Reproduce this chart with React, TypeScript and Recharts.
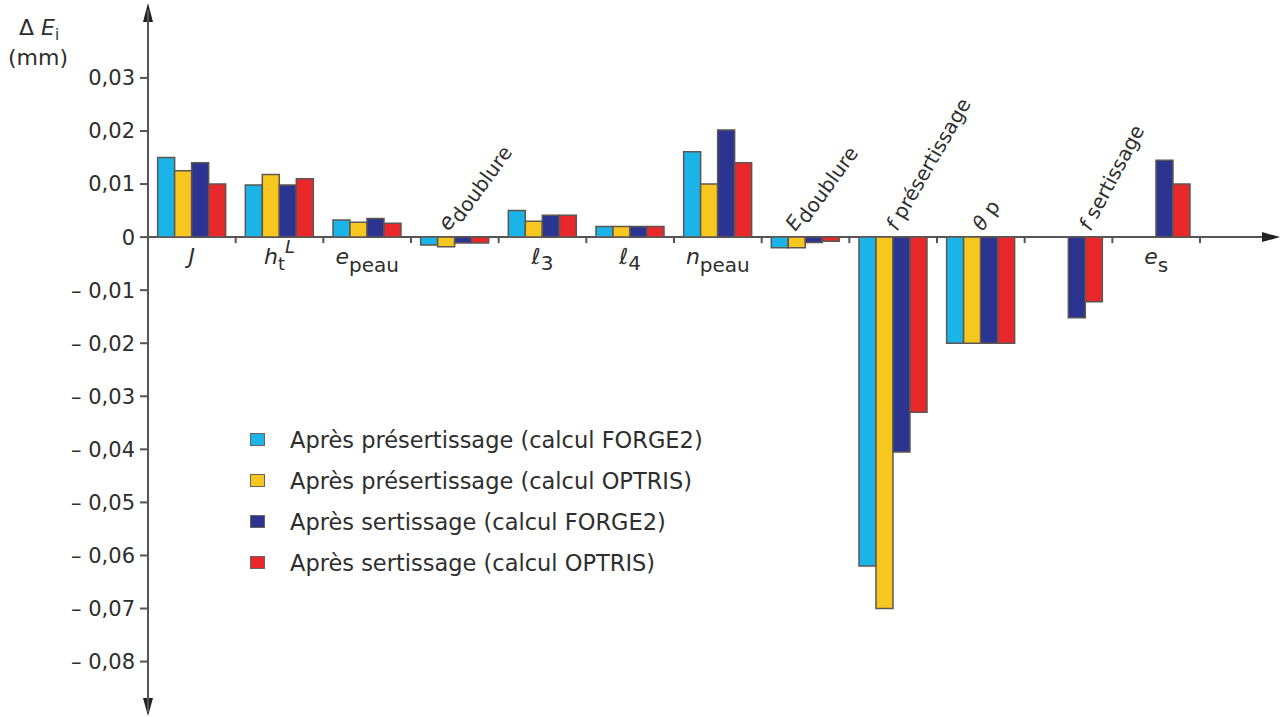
import { BarChart, Bar, XAxis, YAxis, Customized } from 'recharts'

// ΔE_i per parameter (mm)
const categories = ['J', 'htL', 'epeau', 'edoublure', 'l3', 'l4', 'npeau', 'Edoublure', 'fpre', 'thetap', 'fsert', 'es']
const preForge2 = [0.015, 0.0098, 0.0032, -0.0015, 0.005, 0.002, 0.0161, -0.002, -0.062, -0.02, null, null]
const preOptris = [0.0125, 0.0118, 0.0028, -0.0018, 0.003, 0.002, 0.01, -0.002, -0.07, -0.02, null, null]
const sertForge2 = [0.014, 0.0098, 0.0035, -0.0011, 0.0041, 0.002, 0.0202, -0.001, -0.0405, -0.02, -0.0152, 0.0145]
const sertOptris = [0.01, 0.011, 0.0026, -0.0011, 0.0041, 0.002, 0.014, -0.0008, -0.033, -0.02, -0.0122, 0.01]
const yTicks = [0.03, 0.02, 0.01, 0, -0.01, -0.02, -0.03, -0.04, -0.05, -0.06, -0.07, -0.08]

const seriesNames = [
  'Après présertissage (calcul FORGE2)',
  'Après présertissage (calcul OPTRIS)',
  'Après sertissage (calcul FORGE2)',
  'Après sertissage (calcul OPTRIS)',
]
const colors = ['#1ab4e8', '#f8c71f', '#2b3490', '#e8282b']

const data = categories.map((c, i) => ({
  cat: c,
  s0: preForge2[i],
  s1: preOptris[i],
  s2: sertForge2[i],
  s3: sertOptris[i],
}))

const W = 1282
const H = 717
const X_AXIS_H = 5
const margin = { top: 10, right: 82, bottom: 0, left: 0 }
const Y_AXIS_W = 148
const Y_MIN = -0.0895
const Y_MAX = 0.0428
const plotL = margin.left + Y_AXIS_W
const plotR = W - margin.right
const plotT = margin.top
const plotB = H - margin.bottom - X_AXIS_H
const zeroY = plotT + ((plotB - plotT) * Y_MAX) / (Y_MAX - Y_MIN)
const band = (plotR - plotL) / categories.length

const FONT = '"DejaVu Sans", "Liberation Sans", Arial, sans-serif'
const TXT = '#2e2e2e'
const AXIS = '#555'

const fmtY = (v: number) => {
  if (v === 0) return '0'
  const s = Math.abs(v).toFixed(2).replace('.', ',')
  return v < 0 ? '\u2013 ' + s : s
}

function Below({ x, children }: { x: number; children: any }) {
  return (
    <text x={x} y={zeroY + 27} textAnchor="middle" fontSize={22} fill={TXT} fontFamily={FONT}>
      {children}
    </text>
  )
}

function Slanted({ x, angle, children }: { x: number; angle: number; children: any }) {
  return (
    <g transform={`translate(${x},${zeroY - 5}) rotate(${angle})`}>
      <text x={0} y={0} fontSize={20} fill={TXT} fontFamily={FONT}>
        {children}
      </text>
    </g>
  )
}

function CatTick(props: any) {
  const { x, payload } = props
  const i = categories.indexOf(payload.value)
  let label: any = null
  switch (payload.value) {
    case 'J':
      label = <Below x={x}><tspan fontStyle="italic">J</tspan></Below>
      break
    case 'htL':
      label = (
        <Below x={x}>
          <tspan fontStyle="italic">h</tspan>
          <tspan fontSize={18} dy={6}>t</tspan>
          <tspan fontSize={18} fontStyle="italic" dy={-17}>L</tspan>
        </Below>
      )
      break
    case 'epeau':
      label = (
        <Below x={x}>
          <tspan fontStyle="italic">e</tspan>
          <tspan fontSize={20} dy={8}>peau</tspan>
        </Below>
      )
      break
    case 'edoublure':
      label = (
        <Slanted x={x - 6} angle={-54}>
          <tspan fontStyle="italic" fontSize={22}>e</tspan>
          <tspan dy={5}>doublure</tspan>
        </Slanted>
      )
      break
    case 'l3':
      label = (
        <Below x={x}>
          <tspan>ℓ</tspan>
          <tspan fontSize={20} dy={6}>3</tspan>
        </Below>
      )
      break
    case 'l4':
      label = (
        <Below x={x}>
          <tspan>ℓ</tspan>
          <tspan fontSize={20} dy={6}>4</tspan>
        </Below>
      )
      break
    case 'npeau':
      label = (
        <Below x={x}>
          <tspan fontStyle="italic">n</tspan>
          <tspan fontSize={20} dy={8}>peau</tspan>
        </Below>
      )
      break
    case 'Edoublure':
      label = (
        <Slanted x={x - 10} angle={-54}>
          <tspan fontStyle="italic">E</tspan>
          <tspan dy={5}>doublure</tspan>
        </Slanted>
      )
      break
    case 'fpre':
      label = (
        <Slanted x={x + 4} angle={-60}>
          <tspan fontStyle="italic">f</tspan>
          <tspan> présertissage</tspan>
        </Slanted>
      )
      break
    case 'thetap':
      label = (
        <Slanted x={x + 2} angle={-55}>
          <tspan fontStyle="italic">θ</tspan>
          <tspan> p</tspan>
        </Slanted>
      )
      break
    case 'fsert':
      label = (
        <Slanted x={x + 22} angle={-62}>
          <tspan fontStyle="italic">f</tspan>
          <tspan> sertissage</tspan>
        </Slanted>
      )
      break
    case 'es':
      label = (
        <Below x={x}>
          <tspan fontStyle="italic">e</tspan>
          <tspan fontSize={20} dy={8}>s</tspan>
        </Below>
      )
      break
  }
  const bx = plotL + (i + 1) * band
  return (
    <g>
      <line x1={bx} x2={bx} y1={zeroY} y2={zeroY + 6} stroke={AXIS} strokeWidth={2} />
      {label}
    </g>
  )
}

function Decor() {
  return (
    <g>
      <line x1={plotL} x2={W - 16} y1={zeroY} y2={zeroY} stroke={AXIS} strokeWidth={2} />
      <polygon points={`${W - 2},${zeroY} ${W - 20},${zeroY - 5} ${W - 20},${zeroY + 5}`} fill="#222" />
      <polygon points={`${plotL},3 ${plotL - 5},22 ${plotL + 5},22`} fill="#222" />
      <polygon points={`${plotL},${H - 1} ${plotL - 5},${H - 19} ${plotL + 5},${H - 19}`} fill="#222" />
      <text x={39} y={35} textAnchor="middle" fontSize={22} fill={TXT} fontFamily={FONT}>
        <tspan>Δ </tspan>
        <tspan fontStyle="italic">E</tspan>
        <tspan fontSize={15} dy={5}>i</tspan>
      </text>
      <text x={38} y={65} textAnchor="middle" fontSize={22} fill={TXT} fontFamily={FONT}>
        (mm)
      </text>
    </g>
  )
}

export default function App() {
  return (
    <div style={{ position: 'absolute', left: 0, top: 0, width: W, height: H, background: '#fff', fontFamily: FONT }}>
      <BarChart width={W} height={H} data={data} margin={margin} barCategoryGap="11%" barGap={0}>
        <YAxis
          width={Y_AXIS_W}
          type="number"
          domain={[Y_MIN, Y_MAX]}
          ticks={yTicks}
          tickFormatter={fmtY}
          interval={0}
          tickSize={8}
          tickMargin={5}
          axisLine={{ stroke: AXIS, strokeWidth: 2 }}
          tickLine={{ stroke: AXIS, strokeWidth: 2 }}
          tick={{ fontSize: 21, fill: TXT, fontFamily: FONT }}
        />
        <XAxis dataKey="cat" height={X_AXIS_H} interval={0} axisLine={false} tickLine={false} tick={<CatTick />} />
        {['s0', 's1', 's2', 's3'].map((k, i) => (
          <Bar
            key={k}
            dataKey={k}
            name={seriesNames[i]}
            fill={colors[i]}
            stroke="#5e5650"
            strokeWidth={1.5}
            isAnimationActive={false}
          />
        ))}
        <Customized component={<Decor />} />
      </BarChart>

      <div style={{ position: 'absolute', left: 250, top: 419, color: TXT, fontSize: 22.5 }}>
        {seriesNames.map((n, i) => (
          <div key={n} style={{ display: 'flex', alignItems: 'center', height: 41 }}>
            <span
              style={{
                display: 'inline-block',
                width: 15,
                height: 13,
                background: colors[i],
                border: '1.5px solid #6a625c',
                boxSizing: 'border-box',
                marginRight: 25,
              }}
            />
            <span>{n}</span>
          </div>
        ))}
      </div>
    </div>
  )
}
